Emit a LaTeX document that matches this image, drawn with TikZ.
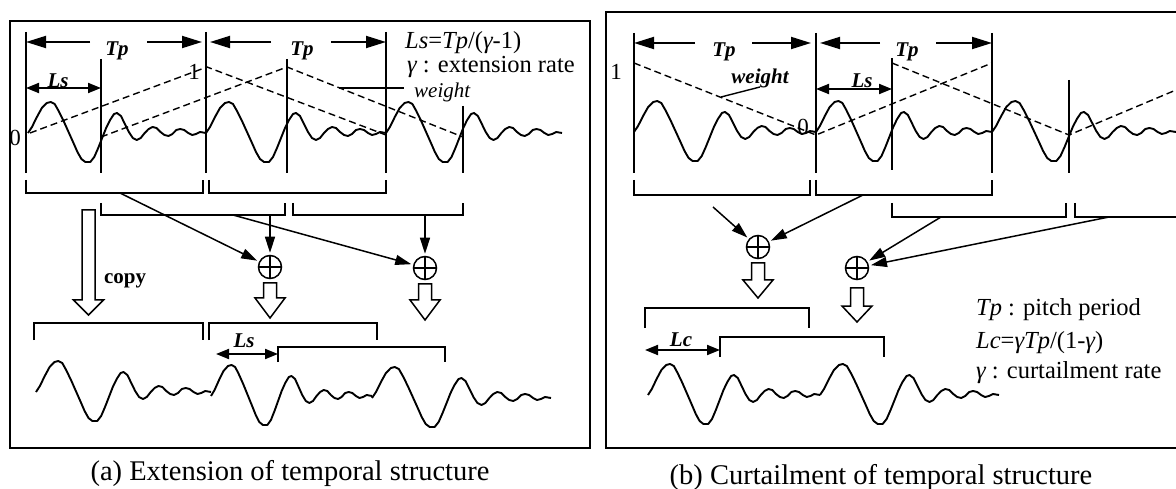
\documentclass[tikz,border=0pt]{standalone}
\usepackage{fontspec}
\setmainfont{Liberation Serif}
\usetikzlibrary{arrows.meta}
\newcommand\wavep[4]{%
\begin{scope}[shift={(#1,#2)},xscale=#3/180]
\draw[wv] (0,0) -- (4,-6) -- (9,-16) -- (14,-25) -- (19,-30) -- (23,-31) -- (27,-29) -- (31,-22) -- (36,-12) -- (41,-1) -- (46,10) -- (50,19) -- (54,26) -- (58,29) -- (63,29) -- (67,24) -- (71,15) -- (75,5) -- (79,-5) -- (83,-13) -- (87,-19) -- (90,-20) -- (94,-17) -- (98,-9) -- (102,-1) -- (106,5) -- (110,7) -- (114,5) -- (118,0) -- (122,-4) -- (126,-6) -- (130,-5) -- (134,-1) -- (138,2) -- (142,3) -- (146,1) -- (150,-3) -- (154,-4) -- (158,-3) -- (162,0) -- (166,2) -- (170,1) -- (174,-1) -- (180,0);
\end{scope}}
\newcommand\hollowdown[4]{%
\draw[hol] (#1-6.5,#2) -- (#1+6.5,#2) -- (#1+6.5,#3) -- (#1+15,#3) -- (#1,#4) -- (#1-15,#3) -- (#1-6.5,#3) -- cycle;}
\begin{document}
\begin{tikzpicture}[x=1pt,y=-1pt,
  ln/.style={line width=1.9pt},
  frame/.style={line width=2.1pt},
  wv/.style={line width=1.9pt,line join=round},
  dsh/.style={line width=1.4pt,dash pattern=on 7pt off 4pt},
  hol/.style={line width=1.5pt,fill=white,line join=miter},
  bigarr/.style={ln,-{Triangle[length=20pt,width=12pt]}},
  dbl/.style={ln,{Triangle[length=13pt,width=10pt]}-{Triangle[length=13pt,width=10pt]}},
  arr/.style={line width=1.5pt,-{Triangle[length=16pt,width=10pt]},shorten >=2pt},
  oplus/.style={circle,draw,line width=1.5pt,minimum size=23pt,inner sep=0pt,
    path picture={\draw[line width=1.5pt] (path picture bounding box.north) -- (path picture bounding box.south) (path picture bounding box.west) -- (path picture bounding box.east);}},
  bi/.style={font=\fontsize{21}{25}\selectfont\bfseries\itshape,inner sep=0pt},
  lbl/.style={font=\fontsize{23}{27}\selectfont,inner sep=0pt},
  txt/.style={font=\fontsize{24.5}{28}\selectfont,inner sep=0pt,anchor=west},
  captxt/.style={font=\fontsize{28.5}{32}\selectfont,inner sep=0pt}]
\useasboundingbox (0,0) rectangle (1176,489);
% ================= (a) =================
\draw[frame] (10,21) rectangle (590,448);
% vertical markers
\draw[ln] (26,32) -- (26,173);
\draw[ln] (206,32) -- (206,173);
\draw[ln] (386,32) -- (386,173);
\draw[ln] (101,59) -- (101,173);
\draw[ln] (287,59) -- (287,173);
\draw[ln] (463,106) -- (463,173);
% Tp arrows
\node[bi,anchor=base] (tpa1) at (117,56) {Tp};
\draw[bigarr] (90,42) -- (26,42);
\draw[bigarr] (147,42) -- (202,42);
\node[bi,anchor=base] (tpa2) at (302,56) {Tp};
\draw[bigarr] (271,42) -- (210,42);
\draw[bigarr] (331,42) -- (386,42);
% Ls
\draw[dbl] (26,88) -- (101,88);
\node[bi,anchor=base] (lsa) at (58,88) {Ls};
% weights
\draw[dsh] (30,133) -- (207,67) -- (386,135);
\draw[dsh] (101,137) -- (287,67) -- (463,137);
\node[lbl] (za) at (15,138) {0};
\node[lbl] (oa) at (194,72) {1};
\node[font=\fontsize{21}{25}\selectfont\itshape,inner sep=0pt,anchor=west] (wa) at (414,92) {weight};
\draw[line width=1.4pt] (339,88) -- (404,88);
\node[txt] (fa) at (405,43) {{\itshape Ls}={\itshape Tp}/({\itshape γ}-1)};
\node[txt] (ga) at (407,67) {{\itshape γ} : extension rate};
% waveform
\wavep{28}{133}{178}{1}
\wavep{206}{133}{180}{1}
\wavep{386}{133}{176}{1}
% brackets
\draw[ln] (26,180) -- (26,193) -- (203,193) -- (203,180);
\draw[ln] (209,180) -- (209,193) -- (386,193) -- (386,180);
\draw[ln] (101,203) -- (101,215) -- (285,215) -- (285,203);
\draw[ln] (293,203) -- (293,215) -- (463,215) -- (463,203);
% adders
\node[oplus] (p1) at (270,267) {};
\node[oplus] (p2) at (425,268) {};
\coordinate (ba1) at (120,193);
\coordinate (ba2) at (233,215);
\coordinate (ba3) at (270,215);
\coordinate (ba4) at (425,215);
\draw[arr] (ba1) -- (p1);
\draw[arr] (ba2) -- (p2);
\draw[arr] (ba3) -- (p1);
\draw[arr] (ba4) -- (p2);
\hollowdown{88.5}{210}{300}{315}
\node[font=\fontsize{21}{25}\selectfont\bfseries,inner sep=0pt] (cp) at (125,281) {copy};
\hollowdown{270}{283}{298}{318}
\hollowdown{425}{284}{300}{320}
% output brackets
\draw[ln] (34,340) -- (34,323) -- (203,323) -- (203,340);
\draw[ln] (209,340) -- (209,323) -- (377,323) -- (377,340);
\draw[ln] (278,362) -- (278,347) -- (445,347) -- (445,362);
\draw[dbl] (216,354) -- (278,354);
\node[bi,anchor=base] (lsb) at (244,347) {Ls};
\wavep{36}{392}{175}{1}
\wavep{211}{396}{161}{1}
\wavep{372}{398}{179}{1}
\node[captxt] (capa) at (290,473) {(a) Extension of temporal structure};
% ================= (b) =================
\draw[frame] (1176,12) -- (606,12) -- (606,448) -- (1176,448);
\draw[ln] (634,33) -- (634,173);
\draw[ln] (816,33) -- (816,173);
\draw[ln] (992,33) -- (992,173);
\draw[ln] (892,58) -- (892,170);
\draw[ln] (1069,80) -- (1069,173);
\node[bi,anchor=base] (tpb1) at (724,57) {Tp};
\draw[bigarr] (695,43) -- (634,43);
\draw[bigarr] (752,43) -- (811,43);
\node[bi,anchor=base] (tpb2) at (907,57) {Tp};
\draw[bigarr] (880,43) -- (820,43);
\draw[bigarr] (936,43) -- (992,43);
\draw[dbl] (816,89) -- (892,89);
\node[bi,anchor=base] (lsc) at (862,88) {Ls};
\draw[dsh] (634,63) -- (816,135) -- (992,63);
\draw[dsh] (892,63) -- (1069,135) -- (1176,90);
\node[lbl] (ob) at (616,72) {1};
\node[lbl] (zb) at (803,127) {0};
\node[bi,font=\fontsize{21}{25}\selectfont\bfseries\itshape] (wb) at (760,78) {weight};
\draw[line width=1.4pt] (721,97) -- (760,87);
\wavep{634}{132}{182}{1}
\wavep{816}{132}{176}{1}
\wavep{992}{132}{184}{1}
\draw[ln] (634,180) -- (634,195) -- (810,195) -- (810,180);
\draw[ln] (816,180) -- (816,195) -- (992,195) -- (992,180);
\draw[ln] (892,203) -- (892,217) -- (1066,217) -- (1066,203);
\draw[ln] (1075,203) -- (1075,217) -- (1176,217);
\node[oplus] (q1) at (758,247) {};
\node[oplus] (q2) at (857,268) {};
\coordinate (bb1) at (713,207);
\coordinate (bb2) at (863,195);
\coordinate (bb3) at (941,217);
\coordinate (bb4) at (1109,217);
\draw[arr] (bb1) -- (q1);
\draw[arr] (bb2) -- (q1);
\draw[arr] (bb3) -- (q2);
\draw[arr] (bb4) -- (q2);
\hollowdown{758}{263}{280}{298}
\hollowdown{857}{288}{306}{322}
\draw[ln] (645,328) -- (645,308) -- (809,308) -- (809,328);
\draw[ln] (720,357) -- (720,337) -- (884,337) -- (884,357);
\draw[dbl] (645,350) -- (720,350);
\node[bi,anchor=base] (lcb) at (681,346) {Lc};
\wavep{648}{395}{172}{1}
\wavep{820}{395}{179}{1}
\node[txt] (t1) at (976,310) {{\itshape Tp} : pitch period};
\node[txt] (t2) at (976,343) {{\itshape Lc}={\itshape γTp}/(1-{\itshape γ})};
\node[txt] (t3) at (976,373) {{\itshape γ} : curtailment rate};
\node[captxt] (capb) at (881,477) {(b) Curtailment of temporal structure};
\end{tikzpicture}
\end{document}
